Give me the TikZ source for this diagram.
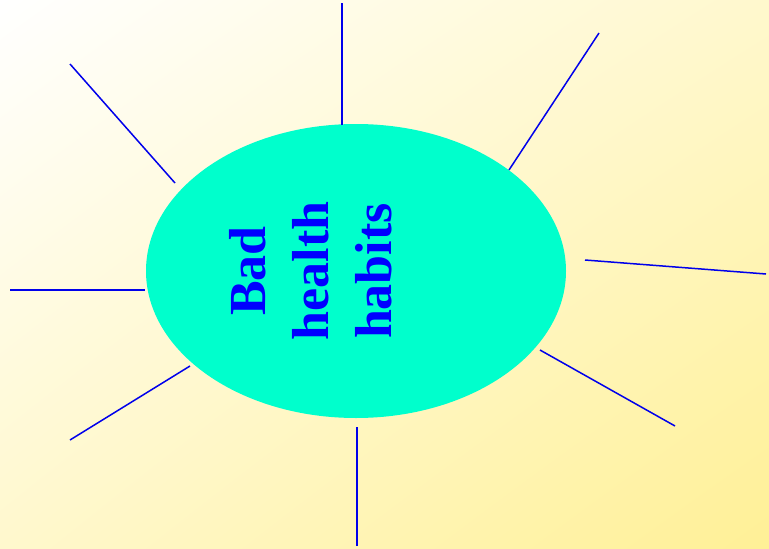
\documentclass[tikz,border=0pt]{standalone}
\usepackage{fontspec}
\setmainfont{Liberation Serif}
\usetikzlibrary{shapes.geometric,shadings}
\definecolor{bgyellow}{RGB}{255,240,150}
\definecolor{bgmid}{RGB}{255,248,205}
\definecolor{aqua}{RGB}{0,255,204}
\definecolor{spoke}{RGB}{0,0,235}
\tikzset{
  spokeline/.style={draw=spoke, line width=1.5pt},
  blob/.style={ellipse, fill=aqua, minimum width=420pt, minimum height=294pt, inner sep=0pt},
  label/.style={text=blue, font=\bfseries\fontsize{52pt}{63pt}\selectfont, align=center, rotate=90}
}
\begin{document}
\begin{tikzpicture}[x=1pt,y=-1pt]
\useasboundingbox (0,0) rectangle (769,549);
\shade[upper left=white, upper right=bgmid, lower left=bgmid, lower right=bgyellow] (0,0) rectangle (769,549);
\node[blob] (e) at (356,271) {};
\node[label] (t) at (311,271) {Bad\\health\\habits};
% spokes
\coordinate (a1) at (342,3);   \coordinate (b1) at (342,125);
\coordinate (a2) at (599,33);  \coordinate (b2) at (509,170);
\coordinate (a3) at (766,274); \coordinate (b3) at (585,260);
\coordinate (a4) at (675,426); \coordinate (b4) at (540,350);
\coordinate (a5) at (357,546); \coordinate (b5) at (357,427);
\coordinate (a6) at (70,440);  \coordinate (b6) at (190,366);
\coordinate (a7) at (10,290);  \coordinate (b7) at (145,290);
\coordinate (a8) at (70,64);   \coordinate (b8) at (175,183);
\foreach \i in {1,...,8} { \draw[spokeline] (a\i) -- (b\i); }
\end{tikzpicture}
\end{document}
